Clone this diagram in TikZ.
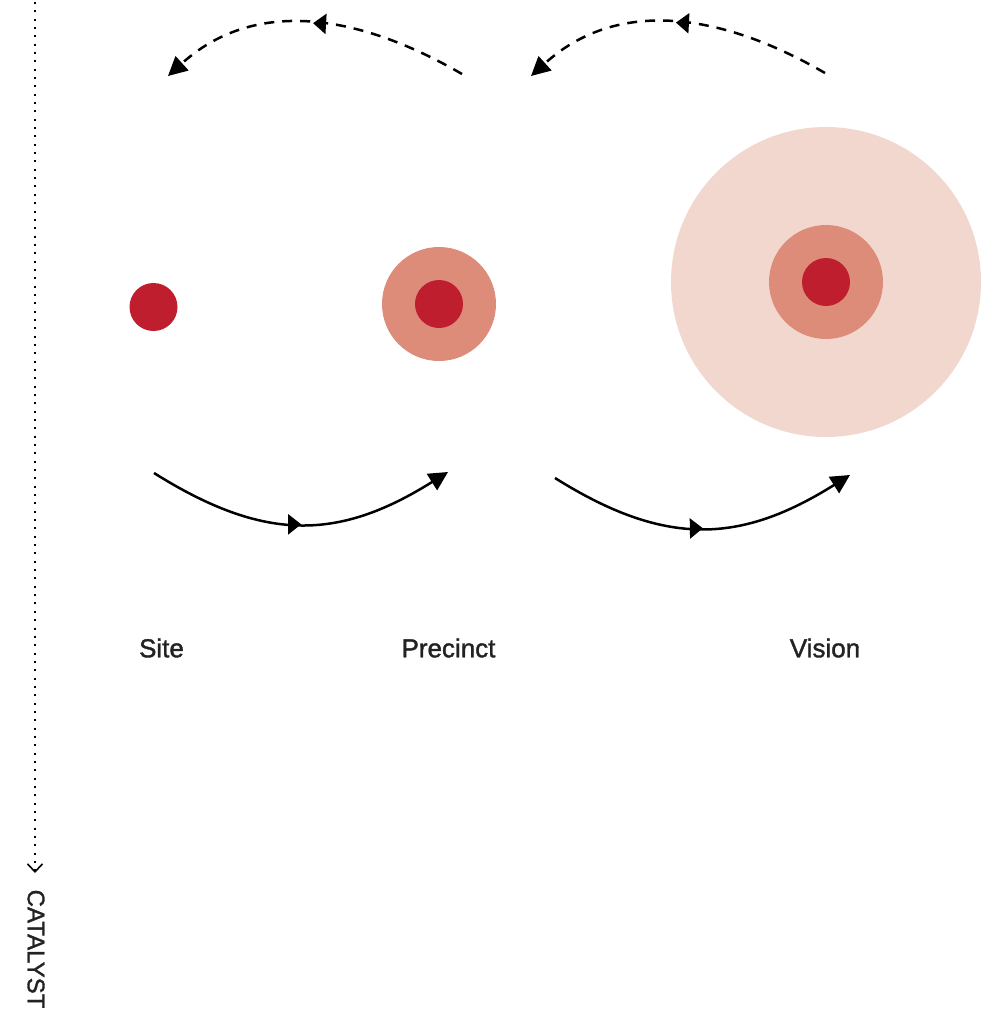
\documentclass[tikz,border=0pt]{standalone}
\usepackage{fontspec}
\setmainfont{Liberation Sans}
\newfontfamily\medfont{Liberation Sans}[FakeBold=1.4]
\usetikzlibrary{arrows.meta,decorations.markings}

\definecolor{corered}{HTML}{BE1E2D}
\definecolor{midred}{HTML}{DD8C79}
\definecolor{palered}{HTML}{F2D7CF}
\definecolor{labelgray}{HTML}{222222}

\begin{document}
\begin{tikzpicture}[x=0.5pt,y=-0.5pt,
  disc/.style={circle,inner sep=0pt,minimum size=#1},
  stage/.style={font=\medfont\fontsize{13}{15}\selectfont,text=labelgray},
  flow/.style={line width=1.25pt,-{Triangle[length=9.5pt,width=9.5pt]},
    postaction={decorate},decoration={markings,
      mark=at position 0.5 with {\arrow{Triangle[length=6.5pt,width=10pt]}}}},
  back/.style={flow,dash pattern=on 5pt off 4pt}]
\useasboundingbox (0,0) rectangle (982,1012);
% timeline
\coordinate (top) at (35,2);
\coordinate (bot) at (35,873);
\draw[line width=1pt,dash pattern=on 1pt off 3.17pt,
  -{Straight Barb[length=4pt,width=7.5pt,line width=0.8pt]}] (top) -- (bot);
\node[rotate=-90,font=\medfont\fontsize{12}{14}\selectfont,text=labelgray] (catalyst) at (36,949) {CATALYST};
% circles
\node[disc=24pt,fill=corered] (site) at (153.5,307) {};
\node[disc=57pt,fill=midred] (precinct) at (439,304) {};
\node[disc=24pt,fill=corered] at (precinct) {};
\node[disc=155pt,fill=palered] (vision) at (826,282) {};
\node[disc=57pt,fill=midred] at (vision) {};
\node[disc=24pt,fill=corered] at (vision) {};
% labels
\node[stage] (sitelabel) at (161.5,648) {Site};
\node[stage] (precinctlabel) at (448.5,648) {Precinct};
\node[stage] (visionlabel) at (825,648) {Vision};
% forward arrows
\coordinate (f1a) at (154,473);
\coordinate (f1b) at (448,472);
\coordinate (f2a) at (555,478);
\coordinate (f2b) at (850,475);
\draw[flow] (f1a) .. controls (264,542) and (338,541) .. (f1b);
\draw[flow] (f2a) .. controls (665,547) and (740,544) .. (f2b);
% backward arrows
\coordinate (b1a) at (462,74);
\coordinate (b1b) at (168,76);
\coordinate (b2a) at (825,73);
\coordinate (b2b) at (531,76);
\draw[back] (b1a) .. controls (355,12) and (253,-1) .. (b1b);
\draw[back] (b2a) .. controls (718,11) and (616,-1) .. (b2b);
\end{tikzpicture}
\end{document}
